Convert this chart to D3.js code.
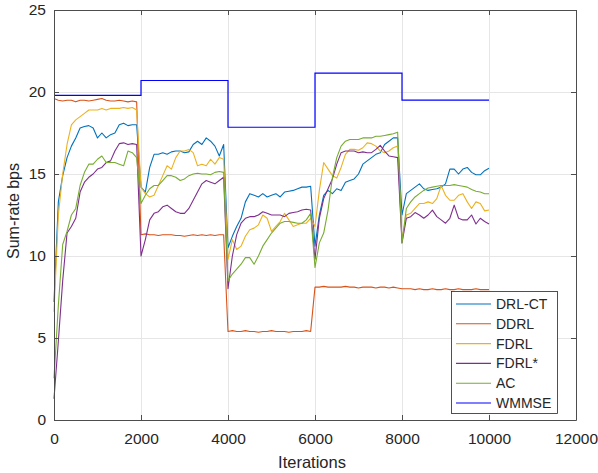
<!DOCTYPE html>
<html>
<head>
<meta charset="utf-8">
<script src="https://cdn.jsdelivr.net/npm/d3@7"></script>
<style>
  body { margin: 0; background: #fff; }
  svg text { font-family: "Liberation Sans", Arial, Helvetica, sans-serif; fill: #262626; }
</style>
</head>
<body>
<svg id="chart" width="598" height="473"></svg>
<script>
// iterations sampled every 100 steps, 0 .. 10000
const iterations = d3.range(0, 10001, 100);

const xTicks = [0, 2000, 4000, 6000, 8000, 10000, 12000];
const yTicks = [0, 5, 10, 15, 20, 25];

const seriesNames = ["DRL-CT", "DDRL", "FDRL", "FDRL*", "AC", "WMMSE"];
const seriesColors = ["#0072BD", "#D95319", "#EDB120", "#7E2F8E", "#77AC30", "#0000FF"];

// values, one per 100 iterations
const drlct = [
  7.2, 13.3, 14.9, 16.0, 16.7, 17.2, 17.8, 17.9, 17.95, 17.8, 17.2, 17.5, 17.2, 17.4, 17.5, 18.0, 18.1, 17.95, 18.0, 18.0,
  14.2, 13.9, 15.4, 16.2, 16.2, 16.3, 16.2, 16.35, 16.4, 16.4, 16.3, 16.35, 16.8, 17.0, 16.8, 17.2, 17.0, 16.7, 16.1, 16.8,
  10.5, 11.2, 11.8, 12.3, 13.3, 13.8, 13.7, 13.6, 13.8, 13.6, 13.7, 13.8, 13.6, 13.9, 13.95, 14.0, 14.1, 14.2, 14.2, 14.25,
  10.6, 12.5, 13.7, 14.0, 13.8, 14.1, 14.0, 14.5, 14.6, 14.7, 15.0, 15.6, 15.8, 16.0, 16.2, 16.3, 16.8, 17.0, 17.2, 17.2,
  12.5, 13.8, 14.0, 14.2, 14.4, 14.1, 14.0, 14.05, 14.1, 14.2, 14.4, 15.3, 15.3, 15.0, 15.3, 15.4, 15.1, 14.95, 14.95, 15.2, 15.35
];
const ddrl = [
  19.6, 19.5, 19.45, 19.5, 19.5, 19.4, 19.5, 19.5, 19.45, 19.5, 19.55, 19.6, 19.5, 19.45, 19.45, 19.5, 19.45, 19.4, 19.45, 19.4,
  11.3, 11.35, 11.3, 11.3, 11.25, 11.3, 11.3, 11.3, 11.25, 11.25, 11.2, 11.25, 11.3, 11.25, 11.3, 11.25, 11.3, 11.25, 11.3, 11.3,
  5.4, 5.45, 5.4, 5.4, 5.45, 5.4, 5.4, 5.35, 5.4, 5.4, 5.45, 5.4, 5.4, 5.4, 5.35, 5.4, 5.4, 5.4, 5.45, 5.4,
  8.1, 8.1, 8.15, 8.1, 8.1, 8.1, 8.1, 8.15, 8.1, 8.1, 8.05, 8.1, 8.1, 8.1, 8.05, 8.1, 8.1, 8.05, 8.1, 8.05,
  8.0, 8.0, 8.0, 7.95, 8.0, 7.95, 7.95, 8.0, 7.95, 7.95, 8.0, 7.95, 7.95, 8.0, 7.95, 7.95, 7.95, 8.0, 7.95, 7.95, 7.95
];
const fdrl = [
  6.6, 12.5, 15.0, 16.8, 18.0, 18.3, 18.5, 18.7, 18.9, 18.9, 18.9, 19.0, 18.9, 19.0, 19.0, 19.0, 19.05, 19.0, 19.05, 18.9,
  14.2, 13.8, 13.6, 13.7, 14.3, 14.9, 15.5, 15.3, 16.0, 16.4, 16.4, 16.5, 16.3, 15.5, 15.6, 15.5, 15.9, 15.6, 16.0, 15.9,
  9.8, 11.0, 10.4, 10.6, 11.2, 11.6, 11.7, 11.9, 12.5, 12.3, 11.5, 11.8, 12.1, 12.6, 12.2, 11.8, 11.9, 12.0, 12.0, 12.3,
  11.8, 14.0, 15.7, 15.3, 14.9, 14.75, 15.4, 16.2, 16.5, 16.5, 16.45, 16.6, 16.9, 16.85, 16.7, 16.4, 16.3, 16.4, 16.6, 16.7,
  11.0, 12.5, 12.6, 12.9, 13.2, 13.2, 13.3, 13.2, 13.5, 14.3, 13.7, 13.4, 13.4, 13.7, 13.8, 13.3, 12.9, 13.3, 13.2, 12.75, 12.8
];
const fdrlStar = [
  1.3, 4.8, 8.5, 11.4, 11.8, 12.3, 13.9, 14.5, 14.8, 15.0, 15.3, 15.4, 15.7, 15.8, 16.4, 16.85, 16.9, 16.8, 16.85, 16.8,
  10.0, 11.0, 12.2, 12.6, 12.7, 13.0, 13.1, 12.9, 12.7, 12.6, 12.6, 12.9, 13.4, 13.9, 14.4, 14.6, 14.5, 14.4, 14.6, 14.8,
  8.0, 10.0, 11.3, 12.0, 12.3, 12.4, 12.4, 12.5, 12.7, 12.6, 12.5, 12.5, 12.5, 12.4, 12.6, 12.65, 12.7, 12.8, 12.85, 12.8,
  9.8, 12.3, 13.5, 14.1, 14.7, 15.6, 16.3, 16.4, 16.4, 16.4, 16.3, 16.35, 16.3, 16.3, 16.5, 16.75, 16.4, 16.1, 16.05, 16.0,
  10.8, 12.3, 12.4, 12.65, 12.5, 12.3, 12.5, 12.8, 12.4, 12.2, 12.0, 12.3, 13.1, 12.3, 12.2, 12.2, 12.5, 11.95, 12.3, 12.1, 11.95
];
const ac = [
  2.55, 7.0, 10.7, 11.5, 12.5, 12.9, 14.3, 15.1, 15.6, 15.6, 15.9, 16.1, 15.7, 15.7, 15.7, 15.6, 15.5, 16.4, 16.3, 16.0,
  13.2, 13.7, 14.1, 14.3, 14.3, 14.6, 14.9, 14.9, 14.8, 14.6, 14.7, 14.9, 15.0, 15.05, 15.0, 15.0, 14.95, 15.1, 15.15, 15.1,
  8.5, 8.9, 9.2, 9.5, 9.9, 9.9, 9.5, 10.0, 10.6, 11.0, 11.4, 11.7, 12.0, 12.1, 12.1, 12.05, 12.0, 12.0, 12.2, 12.6,
  9.3, 10.8, 11.4, 12.8, 14.8, 16.0, 16.7, 17.0, 17.1, 17.1, 17.1, 17.2, 17.2, 17.2, 17.3, 17.3, 17.35, 17.4, 17.45, 17.55,
  10.8, 12.9, 13.3, 13.6, 13.8, 14.0, 14.15, 14.2, 14.25, 14.3, 14.3, 14.3, 14.35, 14.3, 14.25, 14.2, 14.05, 13.95, 13.9, 13.8, 13.8
];
// WMMSE is constant inside each 2000-iteration block
const wmmseSteps = [0, 2000, 4000, 6000, 8000, 10000];
const wmmse = [19.8, 20.7, 17.85, 21.15, 19.5, 19.5];

const svg = d3.select("#chart");
const margin = {top: 10, right: 22, bottom: 53, left: 54};
const width = 598 - margin.left - margin.right;
const height = 473 - margin.top - margin.bottom;

const x = d3.scaleLinear().domain([0, 12000]).range([0, width]);
const y = d3.scaleLinear().domain([0, 25]).range([height, 0]);

const g = svg.append("g").attr("transform", `translate(${margin.left},${margin.top})`);

// grid
g.append("g").selectAll("line").data(xTicks.slice(1, -1)).join("line")
  .attr("x1", d => x(d) + 0.5).attr("x2", d => x(d) + 0.5)
  .attr("y1", 0).attr("y2", height)
  .attr("stroke", "#e6e6e6").attr("stroke-width", 1);
g.append("g").selectAll("line").data(yTicks.slice(1, -1)).join("line")
  .attr("y1", d => Math.round(y(d)) + 0.5).attr("y2", d => Math.round(y(d)) + 0.5)
  .attr("x1", 0).attr("x2", width)
  .attr("stroke", "#e6e6e6").attr("stroke-width", 1);

// data lines
const line = d3.line().x((d, i) => x(iterations[i])).y(d => y(d));
const allSeries = [drlct, ddrl, fdrl, fdrlStar, ac];
const plot = g.append("g");
allSeries.forEach((vals, k) => {
  plot.append("path")
    .datum(vals)
    .attr("fill", "none")
    .attr("stroke", seriesColors[k])
    .attr("stroke-width", 1.1)
    .attr("stroke-linejoin", "round")
    .attr("d", line);
});
plot.append("path")
  .datum(wmmse)
  .attr("fill", "none")
  .attr("stroke", seriesColors[5])
  .attr("stroke-width", 1.2)
  .attr("d", d3.line().curve(d3.curveStepAfter).x((d, i) => x(wmmseSteps[i])).y(d => y(d)));

// axes (box with inward ticks on all four sides)
const axisColor = "#4d4d4d";
const tickLen = 5;
const bottomAx = d3.axisBottom(x).tickValues(xTicks).tickFormat(d3.format("d"))
  .tickSizeInner(-tickLen).tickSizeOuter(0).tickPadding(13);
const leftAx = d3.axisLeft(y).tickValues(yTicks).tickFormat(d3.format("d"))
  .tickSizeInner(-tickLen).tickSizeOuter(0).tickPadding(8);
const topAx = d3.axisTop(x).tickValues(xTicks).tickSizeInner(-tickLen).tickSizeOuter(0).tickFormat("");
const rightAx = d3.axisRight(y).tickValues(yTicks).tickSizeInner(-tickLen).tickSizeOuter(0).tickFormat("");

function styleAxis(sel) {
  sel.selectAll("path, line").attr("stroke", axisColor);
  sel.selectAll("text").attr("font-size", 15.5).attr("fill", "#262626")
    .style("font-family", '"Liberation Sans", Arial, sans-serif');
}
g.append("g").attr("transform", `translate(0,${height})`).call(bottomAx).call(styleAxis);
g.append("g").call(leftAx).call(styleAxis);
g.append("g").call(topAx).call(styleAxis);
g.append("g").attr("transform", `translate(${width},0)`).call(rightAx).call(styleAxis);

// axis titles
svg.append("text")
  .attr("x", 312).attr("y", 468)
  .attr("text-anchor", "middle").attr("font-size", 16.5)
  .text("Iterations");
svg.append("text")
  .attr("transform", "translate(19,211) rotate(-90)")
  .attr("text-anchor", "middle").attr("font-size", 16)
  .text("Sum-rate bps");

// legend
const lg = svg.append("g").attr("transform", "translate(451,291)");
lg.append("rect").attr("x", 0.5).attr("y", 0.5).attr("width", 106).attr("height", 122)
  .attr("fill", "#fff").attr("stroke", "#262626").attr("stroke-width", 0.8);
seriesNames.forEach((name, i) => {
  const yy = 13 + i * 19.8;
  lg.append("line").attr("x1", 5).attr("x2", 40).attr("y1", yy).attr("y2", yy)
    .attr("stroke", seriesColors[i]).attr("stroke-width", 1.1);
  lg.append("text").attr("x", 45).attr("y", yy + 5).attr("font-size", 14).text(name);
});
</script>
</body>
</html>
